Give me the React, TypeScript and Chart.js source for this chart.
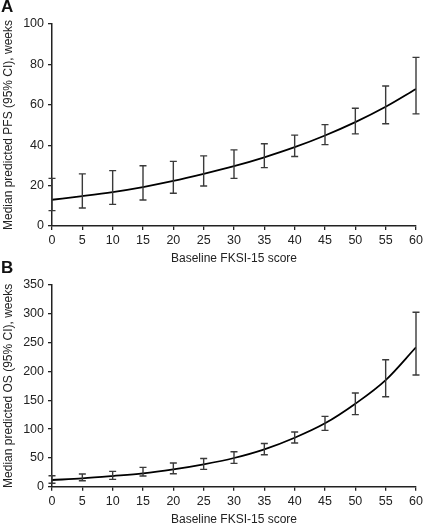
import React, { useEffect, useRef } from "react";
import { Chart, registerables } from "chart.js";

Chart.register(...registerables);

const scores = [0, 5, 10, 15, 20, 25, 30, 35, 40, 45, 50, 55, 60];
const xTicks = [0, 5, 10, 15, 20, 25, 30, 35, 40, 45, 50, 55, 60];

const pfsMedian = [13, 14.8, 16.8, 19.3, 22.3, 25.8, 29.6, 34, 39, 44.8, 51.4, 59, 67.8];
const pfsLower = [7.6, 8.9, 10.7, 12.9, 16.2, 19.8, 23.6, 28.9, 34.4, 40.3, 45.6, 50.6, 55.5];
const pfsUpper = [23.6, 25.8, 27.4, 29.8, 32, 34.7, 37.7, 40.7, 45, 50.2, 58.3, 69.3, 83.5];

const osMedian = [11.6, 14.5, 18.5, 23, 30, 38.8, 49.8, 64.8, 85, 110, 144, 185, 242];
const osLower = [6, 10.4, 12.7, 18.5, 22.6, 30, 40.5, 55.5, 75.8, 97.8, 125, 156, 193.8];
const osUpper = [19, 22, 26.6, 33.5, 41, 49, 60.7, 75, 95, 122, 162.6, 220.4, 302.6];

const FONT = '"Liberation Sans", Arial, Helvetica, sans-serif';
const INK = "#222";

const errorBarPlugin = {
  id: "errorBars",
  afterDatasetsDraw(chart: any, _args: any, opts: any) {
    const { ctx, scales } = chart;
    const xs = scales.x;
    const ys = scales.y;
    const lower: number[] = opts.lower || [];
    const upper: number[] = opts.upper || [];
    const xv: number[] = opts.xs || [];
    ctx.save();
    ctx.strokeStyle = "#3a3a3a";
    ctx.lineWidth = 1.4;
    for (let i = 0; i < xv.length; i++) {
      const px = xs.getPixelForValue(xv[i]);
      const p1 = ys.getPixelForValue(lower[i]);
      const p2 = ys.getPixelForValue(upper[i]);
      ctx.beginPath();
      ctx.moveTo(px, p1);
      ctx.lineTo(px, p2);
      ctx.moveTo(px - 3.5, p1);
      ctx.lineTo(px + 3.5, p1);
      ctx.moveTo(px - 3.5, p2);
      ctx.lineTo(px + 3.5, p2);
      ctx.stroke();
    }
    ctx.restore();
  },
};

type PanelProps = {
  top: number;
  height: number;
  median: number[];
  lower: number[];
  upper: number[];
  yMax: number;
  yStep: number;
  yTitle: string;
  padTop: number;
  xHeight: number;
  xTitlePadBottom: number;
};

function Panel(p: PanelProps) {
  const ref = useRef<HTMLCanvasElement | null>(null);
  useEffect(() => {
    if (!ref.current) return;
    const chart = new Chart(ref.current, {
      type: "line",
      data: {
        datasets: [
          {
            data: scores.map((s, i) => ({ x: s, y: p.median[i] })),
            borderColor: "#000",
            borderWidth: 1.8,
            pointRadius: 0,
            cubicInterpolationMode: "monotone",
            fill: false,
          },
        ],
      },
      options: {
        animation: false,
        responsive: false,
        maintainAspectRatio: false,
        layout: { padding: { top: p.padTop, right: 0, left: 0, bottom: 0 } },
        plugins: {
          legend: { display: false },
          tooltip: { enabled: false },
          errorBars: { xs: scores, lower: p.lower, upper: p.upper },
        } as any,
        scales: {
          x: {
            type: "linear",
            min: 0,
            max: 60,
            afterFit(scale: any) {
              scale.height = p.xHeight;
              scale.paddingRight = 7;
              scale.paddingLeft = 0;
            },
            afterBuildTicks(scale: any) {
              scale.ticks = xTicks.map((v) => ({ value: v }));
            },
            grid: {
              display: true,
              drawOnChartArea: false,
              drawTicks: true,
              tickLength: 4,
              color: INK,
              lineWidth: 1.3,
            },
            border: { display: true, color: INK, width: 1.5 },
            ticks: {
              color: INK,
              font: { family: FONT, size: 12.5 },
              padding: 3,
              maxRotation: 0,
              autoSkip: false,
            },
            title: {
              display: true,
              text: "Baseline FKSI-15 score",
              color: INK,
              font: { family: FONT, size: 12 },
              padding: { top: 0, bottom: p.xTitlePadBottom },
            },
          },
          y: {
            type: "linear",
            min: 0,
            max: p.yMax,
            afterFit(scale: any) {
              scale.width = 52;
            },
            ticks: {
              stepSize: p.yStep,
              color: INK,
              font: { family: FONT, size: 12.5 },
              padding: 4,
            },
            grid: {
              display: true,
              drawOnChartArea: false,
              drawTicks: true,
              tickLength: 4,
              color: INK,
              lineWidth: 1.3,
            },
            border: { display: true, color: INK, width: 1.5 },
            title: {
              display: true,
              text: p.yTitle,
              color: INK,
              font: { family: FONT, size: 12 },
              padding: { top: 1, bottom: 0 },
            },
          },
        },
      } as any,
      plugins: [errorBarPlugin],
    });
    return () => chart.destroy();
  }, []);
  return (
    <canvas
      ref={ref}
      width={423}
      height={p.height}
      style={{ position: "absolute", left: 0, top: p.top, width: 423, height: p.height }}
    />
  );
}

const letterStyle: React.CSSProperties = {
  position: "absolute",
  left: 1,
  fontFamily: FONT,
  fontWeight: "bold",
  fontSize: 17,
  lineHeight: "17px",
  color: "#111",
};

export default function App() {
  return (
    <div
      style={{
        position: "fixed",
        left: 0,
        top: 0,
        width: 423,
        height: 527,
        background: "#fff",
        overflow: "hidden",
      }}
    >
      <Panel
        top={0}
        height={268}
        median={pfsMedian}
        lower={pfsLower}
        upper={pfsUpper}
        yMax={100}
        yStep={20}
        yTitle="Median predicted PFS (95% CI), weeks"
        padTop={24}
        xHeight={42}
        xTitlePadBottom={2}
      />
      <Panel
        top={260}
        height={267}
        median={osMedian}
        lower={osLower}
        upper={osUpper}
        yMax={350}
        yStep={50}
        yTitle="Median predicted OS (95% CI), weeks"
        padTop={25}
        xHeight={40.3}
        xTitlePadBottom={0}
      />
      <div style={{ ...letterStyle, top: -2 }}>A</div>
      <div style={{ ...letterStyle, top: 259 }}>B</div>
    </div>
  );
}
